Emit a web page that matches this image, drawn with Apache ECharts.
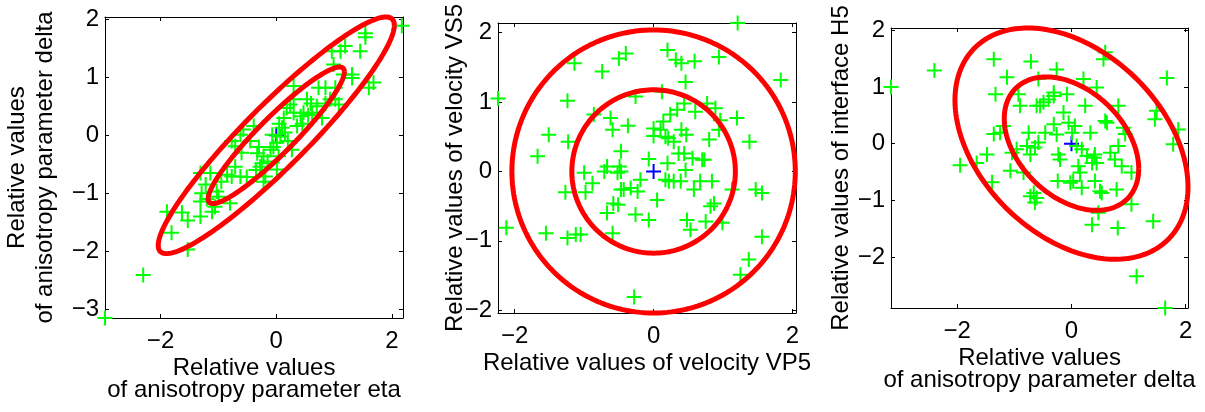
<!DOCTYPE html>
<html><head><meta charset="utf-8">
<script src="https://cdn.jsdelivr.net/npm/echarts@6/dist/echarts.min.js"></script>
<style>html,body{margin:0;padding:0;background:#fff}#c{width:1205px;height:412px}</style>
</head><body><div id="c"></div><script>
// Panel 1: eta (x) vs delta (y)
const etaDelta = [
[-2.96,-3.15],[-2.30,-2.41],[-1.53,-1.97],[-1.81,-1.68],[-1.89,-1.32],[-1.63,-1.33],[-1.53,-1.47],[-1.31,-1.40],
[-1.31,-1.14],[-1.29,-1.00],[-1.22,-0.85],[-1.31,-0.65],[-1.14,-0.65],[-1.11,-1.32],[-1.06,-1.23],[-1.00,-1.06],
[-0.80,-1.17],[-1.03,-0.97],[-0.85,-0.68],[-0.77,-0.71],[-0.71,-0.54],[-0.62,-0.71],[-0.51,-0.72],[-0.71,-0.19],
[-0.77,-0.10],[-0.62,0.01],[-0.57,0.10],[-0.39,0.16],[-0.33,-0.31],[-0.22,-0.36],[-0.25,-0.48],[-0.28,-0.54],
[-0.19,-0.71],[-0.22,-0.80],[-0.07,0.01],[-0.10,-0.25],[0.01,-0.13],[0.07,-0.02],[0.10,0.13],[0.04,-0.36],
[0.01,-0.59],[0.13,0.30],[0.18,0.47],[0.24,0.53],[0.30,0.85],[0.30,0.62],[0.30,0.39],[0.36,0.16],
[0.27,-0.25],[0.42,0.33],[0.47,0.39],[0.53,0.62],[0.62,0.39],[0.70,0.50],[0.73,0.82],[0.85,0.82],
[0.79,0.30],[0.93,0.62],[1.02,0.82],[1.02,0.62],[1.08,0.53],[0.99,1.22],[1.16,1.05],[1.31,0.99],
[1.31,1.05],[1.60,0.82],[1.68,0.91],[1.45,1.45],[1.54,1.69],[1.54,1.76],[1.19,1.54],[0.96,1.45],
[2.17,1.89],[1.11,1.45],[-0.45,-0.10],[-0.15,-0.45],[-0.35,-0.60],[-0.05,-0.20],[0.15,0.05],[0.20,-0.10],
[0.45,0.20],[0.55,0.35],[-0.95,-0.80],[-1.20,-1.10],[-0.60,-0.30],[0.05,0.20],[-0.30,-0.20],[0.60,0.55],[0.85,0.55]
];
// Panel 2: VP5 (x) vs VS5 (y)
const vpVs = [
[-2.24,1.05],[-2.12,-0.81],[-1.67,0.22],[-1.51,0.53],[-1.55,-0.89],[-1.24,1.02],[-1.14,1.56],[-1.23,0.43],
[-1.27,-0.30],[-1.24,-0.96],[-1.12,-0.91],[-1.05,-0.91],[-1.00,-0.02],[-0.98,-0.30],[-0.88,-0.17],[-0.86,0.82],
[-0.74,1.44],[-0.71,0.00],[-0.67,0.07],[-0.67,-0.60],[-0.62,0.77],[-0.59,0.60],[-0.59,-0.89],[-0.58,-0.46],
[-0.52,-0.02],[-0.51,-0.48],[-0.50,1.63],[-0.49,0.07],[-0.47,0.29],[-0.47,0.00],[-0.47,-0.26],[-0.40,1.70],
[-0.37,0.66],[-0.43,-0.26],[-0.33,-0.24],[-0.26,1.08],[-0.26,-0.62],[-0.28,-1.81],[-0.23,-0.29],[-0.19,-0.12],
[-0.07,0.18],[-0.07,-0.70],[0.00,0.51],[0.00,0.62],[0.05,-0.41],[0.10,0.60],[0.12,1.15],[0.14,0.72],
[0.17,0.50],[0.20,1.75],[0.17,-0.12],[0.20,0.12],[0.21,0.48],[0.22,-0.14],[0.24,0.82],[0.29,0.43],
[0.32,1.61],[0.34,0.89],[0.36,0.26],[0.29,-0.14],[0.39,-0.14],[0.40,1.56],[0.40,0.60],[0.44,0.26],
[0.46,0.02],[0.46,1.29],[0.44,0.98],[0.47,0.53],[0.48,-0.70],[0.53,-0.84],[0.56,0.19],[0.58,-0.26],
[0.59,1.59],[0.60,0.86],[0.67,-0.14],[0.70,0.17],[0.73,0.17],[0.75,-0.72],[0.77,0.98],[0.80,0.46],
[0.84,-0.14],[0.82,-0.50],[0.87,-0.46],[0.89,0.91],[0.94,1.65],[0.94,0.60],[0.96,0.74],[0.99,-0.74],
[1.13,-0.26],[1.20,0.77],[1.21,2.14],[1.25,-1.49],[1.37,-1.27],[1.38,0.43],[1.47,-0.26],[1.56,-0.31],
[1.56,-0.94],[1.83,1.32]
];
// Panel 3: delta (x) vs H5 (y)
const deltaH = [
[-3.16,1.00],[-2.40,1.29],[-1.95,-0.38],[-1.66,-0.34],[-1.48,-0.19],[-1.39,-0.68],[-1.36,1.49],[-1.33,0.87],
[-1.36,0.17],[-1.25,0.19],[-1.19,0.31],[-1.13,1.17],[-1.07,-0.48],[-1.04,-0.16],[-0.96,-0.10],[-0.93,0.87],
[-0.90,0.67],[-0.84,-0.51],[-0.78,-0.04],[-0.75,0.19],[-0.72,-0.19],[-0.71,1.45],[-0.72,-0.93],[-0.66,-0.87],
[-0.64,-1.04],[-0.64,-0.07],[-0.61,0.67],[-0.58,0.02],[-0.61,-0.96],[-0.58,1.14],[-0.55,0.67],[-0.49,0.73],
[-0.46,0.19],[-0.40,0.78],[-0.31,0.90],[-0.31,0.34],[-0.31,0.84],[-0.26,1.31],[-0.26,0.16],[-0.24,-0.66],
[-0.23,-0.19],[-0.20,-0.28],[-0.14,0.55],[-0.08,0.87],[-0.05,0.37],[-0.02,-0.69],[0.01,0.19],[0.06,0.31],
[0.03,-0.66],[0.09,-0.04],[0.12,-0.40],[0.18,-0.78],[0.15,-0.51],[0.18,-0.10],[0.21,1.14],[0.24,0.67],
[0.27,-0.22],[0.33,0.19],[0.36,-0.34],[0.36,-1.43],[0.40,-0.25],[0.41,-0.19],[0.41,-0.66],[0.44,0.99],
[0.47,-1.22],[0.50,-0.84],[0.53,-0.87],[0.56,1.49],[0.59,0.40],[0.62,0.37],[0.59,1.61],[0.68,-0.16],
[0.76,-0.28],[0.79,-0.81],[0.81,-1.49],[0.82,0.67],[0.82,-0.04],[0.88,-0.40],[0.91,0.28],[0.94,0.17],
[1.05,-0.51],[1.05,-1.07],[1.14,-2.34],[1.43,-1.37],[1.46,0.43],[1.49,0.58],[1.64,-2.90],[1.67,1.16],
[1.78,-0.01],[1.87,0.25],[0.44,-0.34]
];
const origin = [[0, 0]];
const ellipseRadii = [1.177, 2.04];
const correlations = [0.93, 0, -0.375];
const xTitles = ['Relative values\nof anisotropy parameter eta', 'Relative values of velocity VP5', 'Relative values\nof anisotropy parameter delta'];
const yTitles = ['Relative values\nof anisotropy parameter delta', 'Relative values of velocity VS5', 'Relative values of interface H5'];
const xRanges = [[-2.96, 2.19], [-2.24, 2.05], [-3.16, 2.04]];
const yRanges = [[-3.15, 2.04], [-2.04, 2.14], [-2.9, 2.04]];
const xTicks = [[-2, 0, 2], [-2, 0, 2], [-2, 0, 2]];
const yTicks = [[-3, -2, -1, 0, 1, 2], [-2, -1, 0, 1, 2], [-2, -1, 0, 1, 2]];

const panels = [etaDelta, vpVs, deltaH];
const grids = [
  {left: 105, top: 17, width: 298, height: 301},
  {left: 498, top: 23, width: 298, height: 290},
  {left: 891, top: 28, width: 297, height: 280}
];
const yNameGaps = [46, 29, 36];
const font = 'Liberation Sans, Arial, Helvetica, sans-serif';
const fs = 24;
const fmt = v => String(v).replace('-', '\u2212');

const xAxis = [], yAxis = [], series = [];
panels.forEach((pts, i) => {
  const common = (ticks) => ({
    type: 'value', gridIndex: i, splitLine: {show: false}, nameMoveOverlap: false,
    axisLine: {show: true, onZero: false, lineStyle: {color: '#000', width: 1}},
    axisTick: {show: true, inside: true, length: 4, customValues: ticks, lineStyle: {color: '#000', width: 1}}
  });
  xAxis.push(Object.assign(common(xTicks[i]), {
    position: 'bottom', min: xRanges[i][0], max: xRanges[i][1],
    name: xTitles[i], nameLocation: 'middle', nameGap: 39,
    nameTextStyle: {fontSize: fs, lineHeight: 22, color: '#000', fontFamily: font, align: 'center'},
    axisLabel: {customValues: xTicks[i], margin: 11, fontSize: fs, color: '#000', fontFamily: font, formatter: fmt}
  }));
  xAxis.push(Object.assign(common(xTicks[i]), {
    position: 'top', min: xRanges[i][0], max: xRanges[i][1], axisLabel: {show: false}
  }));
  yAxis.push(Object.assign(common(yTicks[i]), {
    position: 'left', min: yRanges[i][0], max: yRanges[i][1],
    name: yTitles[i], nameLocation: 'middle', nameRotate: 90, nameGap: yNameGaps[i],
    nameTextStyle: {fontSize: fs, lineHeight: 28, color: '#000', fontFamily: font, align: 'center'},
    axisLabel: {customValues: yTicks[i], margin: 6, fontSize: fs, color: '#000', fontFamily: font, formatter: fmt}
  }));
  yAxis.push(Object.assign(common(yTicks[i]), {
    position: 'right', min: yRanges[i][0], max: yRanges[i][1], axisLabel: {show: false}
  }));
  series.push({
    type: 'scatter', xAxisIndex: 2 * i, yAxisIndex: 2 * i, data: origin, silent: true, z: 1,
    symbol: 'path://M0,-1L0,1M-1,0L1,0', symbolSize: 15,
    itemStyle: {color: 'rgba(0,0,0,0)', borderColor: '#0000ff', borderWidth: 2, opacity: 1}
  });
  series.push({
    type: 'scatter', xAxisIndex: 2 * i, yAxisIndex: 2 * i, data: pts, silent: true, z: 2,
    symbol: 'path://M0,-1L0,1M-1,0L1,0', symbolSize: 15,
    itemStyle: {color: 'rgba(0,0,0,0)', borderColor: '#00ff00', borderWidth: 2, opacity: 1}
  });
  series.push({
    type: 'custom', xAxisIndex: 2 * i, yAxisIndex: 2 * i, silent: true, z: 3, clip: false,
    data: ellipseRadii.map(r => [r, correlations[i]]),
    renderItem: (params, api) => {
      const r = api.value(0), rho = api.value(1);
      const s = Math.sqrt(1 - rho * rho);
      const p = [];
      for (let k = 0; k <= 200; k++) {
        const t = k / 200 * 2 * Math.PI;
        p.push(api.coord([r * Math.cos(t), r * (rho * Math.cos(t) + s * Math.sin(t))]));
      }
      return {type: 'polyline', shape: {points: p}, style: {stroke: '#ff0000', lineWidth: 5, fill: 'none', lineJoin: 'round'}};
    }
  });
});

const chart = echarts.init(document.getElementById('c'), null, {renderer: 'canvas'});
chart.setOption({
  animation: false, backgroundColor: '#fff',
  textStyle: {fontFamily: font},
  grid: grids, xAxis, yAxis, series
});
</script></body></html>
